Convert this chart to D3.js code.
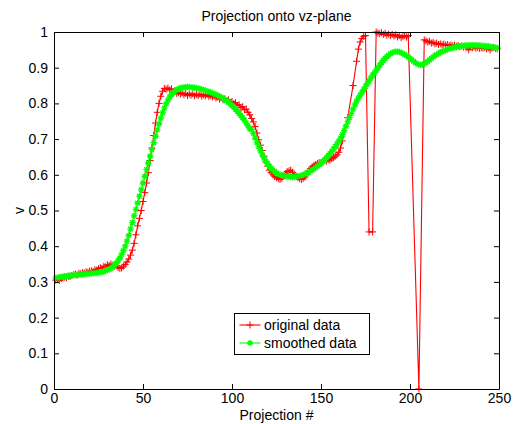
<!DOCTYPE html>
<html>
<head>
<meta charset="utf-8">
<script src="https://cdn.jsdelivr.net/npm/d3@7"></script>
<style>
  body { margin: 0; background: #fff; }
  text { font-family: "Liberation Sans", Arial, Helvetica, sans-serif; fill: #000; }
</style>
</head>
<body>
<div id="chart"></div>
<script>
var margin = {top: 32, right: 19, bottom: 35, left: 54},
    width = 518,
    height = 424,
    plot_w = width - margin.left - margin.right,
    plot_h = height - margin.top - margin.bottom,
    tick_len = 5;

var titleText = "Projection onto vz-plane",
    xLabel = "Projection #",
    yLabel = "v",
    legendLabels = ["original data", "smoothed data"];

var xTicks = [0, 50, 100, 150, 200, 250],
    yTicks = [0, 0.1, 0.2, 0.3, 0.4, 0.5, 0.6, 0.7, 0.8, 0.9, 1];

// projection numbers 1..249 (matlab's implicit x)
var projection = d3.range(1, 250);

// original data, null = no point drawn there
var original = [
  0.305, 0.307, 0.304, 0.309, 0.311, 0.313, 0.312, 0.316, 0.315, 0.318,
  0.32, 0.322, 0.319, 0.324, 0.323, 0.326, 0.325, 0.328, 0.327, 0.33,
  0.331, 0.329, 0.334, 0.333, 0.337, 0.34, 0.338, 0.344, 0.342, 0.348,
  0.346, 0.35, 0.347, 0.344, 0.345, 0.34, 0.338, 0.339, 0.344, 0.349,
  0.356, 0.364, 0.375, 0.389, 0.408, 0.432, 0.457, 0.478, 0.5, 0.525,
  0.55, 0.577, 0.606, 0.64, 0.675, 0.71, 0.745, 0.775, 0.8, 0.82,
  0.834, 0.842, 0.84, 0.843, 0.838, 0.841, 0.832, 0.836, 0.828, 0.831,
  0.826, 0.829, 0.824, 0.828, 0.822, 0.826, 0.823, 0.827, 0.821, 0.825,
  0.822, 0.826, 0.82, 0.824, 0.821, 0.825, 0.819, 0.822, 0.818, 0.821,
  0.815, 0.818, 0.812, 0.816, 0.81, 0.813, 0.807, 0.81, 0.803, 0.805,
  0.799, 0.802, 0.794, 0.796, 0.788, 0.791, 0.782, 0.784, 0.775, 0.768,
  0.758, 0.748, 0.735, 0.717, 0.698, 0.683, 0.668, 0.652, 0.636, 0.624,
  0.613, 0.606, 0.6, 0.595, 0.592, 0.589, 0.587, 0.59, 0.597, 0.604,
  0.609, 0.611, 0.613, 0.607, 0.601, 0.596, 0.592, 0.589, 0.587, 0.59,
  0.594, 0.602, 0.611, 0.617, 0.622, 0.626, 0.629, 0.632, 0.634, 0.633,
  0.637, 0.64, 0.638, 0.642, 0.641, 0.645, 0.648, 0.652, 0.656, 0.663,
  0.675, 0.695, null, null, 0.76, null, null, 0.85, null, 0.918,
  0.952, 0.972, 0.982, 0.988, 0.99, null, 0.44, null, 0.44, null,
  1.0, 0.997, 0.995, 0.998, 0.993, 0.996, 0.991, 0.994, 0.99, 0.993,
  0.989, 0.992, 0.986, 0.99, 0.984, 0.988, 0.99, 0.986, 0.99, null,
  null, null, null, null, 0, null, null, 0.978, 0.975, 0.972,
  0.974, 0.969, 0.971, 0.967, 0.969, 0.965, 0.967, 0.964, 0.966, 0.963,
  0.965, 0.962, 0.964, 0.961, 0.963, 0.96, 0.962, 0.959, 0.961, 0.958,
  0.96, 0.957, 0.95, 0.959, 0.956, 0.958, 0.955, 0.957, 0.954, 0.956,
  0.955, 0.957, 0.953, 0.956, 0.95, 0.955, 0.957, 0.954, 0.953
];

var smoothed = [
  0.311, 0.312, 0.313, 0.314, 0.315, 0.316, 0.316, 0.317, 0.318, 0.318,
  0.319, 0.319, 0.32, 0.32, 0.321, 0.321, 0.322, 0.322, 0.323, 0.323,
  0.324, 0.324, 0.325, 0.325, 0.326, 0.327, 0.328, 0.329, 0.331, 0.333,
  0.335, 0.338, 0.342, 0.347, 0.352, 0.359, 0.367, 0.377, 0.388, 0.4,
  0.414, 0.43, 0.448, 0.466, 0.485, 0.503, 0.521, 0.54, 0.558, 0.577,
  0.596, 0.615, 0.633, 0.652, 0.671, 0.69, 0.708, 0.726, 0.743, 0.759,
  0.774, 0.787, 0.799, 0.809, 0.818, 0.825, 0.83, 0.835, 0.838, 0.841,
  0.843, 0.844, 0.845, 0.846, 0.846, 0.846, 0.845, 0.845, 0.844, 0.843,
  0.842, 0.841, 0.839, 0.838, 0.836, 0.834, 0.833, 0.831, 0.829, 0.827,
  0.825, 0.822, 0.82, 0.817, 0.814, 0.811, 0.807, 0.803, 0.799, 0.794,
  0.789, 0.784, 0.778, 0.772, 0.766, 0.76, 0.753, 0.745, 0.737, 0.728,
  0.728, 0.716, 0.703, 0.69, 0.678, 0.667, 0.656, 0.647, 0.638, 0.631,
  0.624, 0.618, 0.613, 0.609, 0.605, 0.602, 0.6, 0.598, 0.597, 0.596,
  0.595, 0.595, 0.594, 0.594, 0.594, 0.595, 0.596, 0.597, 0.598, 0.6,
  0.602, 0.604, 0.607, 0.61, 0.613, 0.616, 0.62, 0.624, 0.628, 0.632,
  0.637, 0.642, 0.647, 0.653, 0.659, 0.665, 0.672, 0.679, 0.686, 0.694,
  0.703, 0.713, 0.724, 0.736, 0.748, 0.76, 0.772, 0.784, 0.796, 0.806,
  0.815, 0.823, 0.831, 0.839, 0.847, 0.855, 0.863, 0.871, 0.879, 0.886,
  0.893, 0.9, 0.907, 0.914, 0.92, 0.926, 0.931, 0.935, 0.939, 0.942,
  0.944, 0.945, 0.945, 0.944, 0.942, 0.94, 0.937, 0.934, 0.93, 0.926,
  0.922, 0.918, 0.914, 0.911, 0.909, 0.908, 0.909, 0.911, 0.914, 0.918,
  0.922, 0.926, 0.93, 0.934, 0.937, 0.94, 0.943, 0.945, 0.947, 0.949,
  0.951, 0.953, 0.954, 0.956, 0.957, 0.958, 0.959, 0.96, 0.961, 0.961,
  0.962, 0.962, 0.962, 0.963, 0.963, 0.963, 0.963, 0.962, 0.962, 0.962,
  0.961, 0.961, 0.96, 0.96, 0.959, 0.958, 0.957, 0.956, 0.955
];

var x = d3.scaleLinear().domain([0, 250]).range([0, plot_w]);
var y = d3.scaleLinear().domain([0, 1]).range([plot_h, 0]);

var svg = d3.select("#chart").append("svg")
    .attr("width", width)
    .attr("height", height);

svg.append("rect").attr("width", width).attr("height", height).attr("fill", "#fff");

var canvas = svg.append("g")
    .attr("transform", "translate(" + margin.left + "," + margin.top + ")");

function pts(vals) {
  return projection.map(function (p, i) { return {p: p, v: vals[i]}; })
    .filter(function (d) { return d.v != null; });
}

var origPts = pts(original),
    smoothPts = pts(smoothed);

var line = d3.line()
    .x(function (d) { return x(d.p); })
    .y(function (d) { return y(d.v); });

// plus marker, like matlab '+'
function plusPath(cx, cy, r) {
  return "M" + (cx - r) + "," + cy + "h" + (2 * r) + "M" + cx + "," + (cy - r) + "v" + (2 * r);
}
// asterisk marker, like matlab '*'
function starPath(cx, cy, r) {
  var d = plusPath(cx, cy, r), k = r * 0.72;
  d += "M" + (cx - k) + "," + (cy - k) + "l" + (2 * k) + "," + (2 * k);
  d += "M" + (cx - k) + "," + (cy + k) + "l" + (2 * k) + "," + (-2 * k);
  return d;
}

// original data
canvas.append("path")
  .datum(origPts)
  .attr("d", line)
  .attr("fill", "none")
  .attr("stroke", "#ff0000")
  .attr("stroke-width", 1.1);

canvas.append("path")
  .attr("d", origPts.map(function (d) { return plusPath(x(d.p), y(d.v), 3.5); }).join(""))
  .attr("fill", "none")
  .attr("stroke", "#ff0000")
  .attr("stroke-width", 1);

// smoothed data
canvas.append("path")
  .datum(smoothPts)
  .attr("d", line)
  .attr("fill", "none")
  .attr("stroke", "#00ff00")
  .attr("stroke-width", 1.1);

canvas.append("path")
  .attr("d", smoothPts.map(function (d) { return starPath(x(d.p), y(d.v), 3.2); }).join(""))
  .attr("fill", "none")
  .attr("stroke", "#00ff00")
  .attr("stroke-width", 1.3);

// axes, ticks pointing inward on all four sides
var fmt = d3.format("~g");

function styleAxis(g) {
  g.selectAll("path.domain").attr("stroke", "#000").attr("stroke-width", 1);
  g.selectAll(".tick line").attr("stroke", "#000");
  g.selectAll(".tick text").style("font-size", "14px").attr("fill", "#000");
}

canvas.append("g")
  .attr("transform", "translate(0," + plot_h + ")")
  .call(d3.axisBottom(x).tickValues(xTicks).tickFormat(fmt)
        .tickSizeInner(-tick_len).tickSizeOuter(0).tickPadding(4))
  .call(styleAxis);

canvas.append("g")
  .call(d3.axisTop(x).tickValues(xTicks).tickFormat("")
        .tickSizeInner(-tick_len).tickSizeOuter(0))
  .call(styleAxis);

canvas.append("g")
  .call(d3.axisLeft(y).tickValues(yTicks).tickFormat(fmt)
        .tickSizeInner(-tick_len).tickSizeOuter(0).tickPadding(6))
  .call(styleAxis);

canvas.append("g")
  .attr("transform", "translate(" + plot_w + ",0)")
  .call(d3.axisRight(y).tickValues(yTicks).tickFormat("")
        .tickSizeInner(-tick_len).tickSizeOuter(0))
  .call(styleAxis);

// title and labels
svg.append("text")
  .attr("x", margin.left + plot_w / 2)
  .attr("y", 21)
  .attr("text-anchor", "middle")
  .style("font-size", "14px")
  .text(titleText);

svg.append("text")
  .attr("x", margin.left + plot_w / 2)
  .attr("y", 420)
  .attr("text-anchor", "middle")
  .style("font-size", "14px")
  .text(xLabel);

svg.append("text")
  .attr("transform", "translate(24," + (margin.top + plot_h / 2) + ") rotate(-90)")
  .attr("text-anchor", "middle")
  .style("font-size", "14px")
  .text(yLabel);

// legend
var legend = svg.append("g").attr("transform", "translate(234.5,313.5)");

legend.append("rect")
  .attr("width", 135)
  .attr("height", 41)
  .attr("fill", "#fff")
  .attr("stroke", "#000")
  .attr("stroke-width", 1);

var legendColors = ["#ff0000", "#00ff00"];

legendLabels.forEach(function (lab, i) {
  var ly = 11.5 + i * 18;
  legend.append("line")
    .attr("x1", 5).attr("x2", 26)
    .attr("y1", ly).attr("y2", ly)
    .attr("stroke", legendColors[i])
    .attr("stroke-width", 1.1);
  legend.append("path")
    .attr("d", i === 0 ? plusPath(15.5, ly, 3.5) : starPath(15.5, ly, 3))
    .attr("fill", "none")
    .attr("stroke", legendColors[i])
    .attr("stroke-width", i === 0 ? 1 : 1.3);
  legend.append("text")
    .attr("x", 29.5)
    .attr("y", ly + 5)
    .style("font-size", "14px")
    .text(lab);
});
</script>
</body>
</html>
